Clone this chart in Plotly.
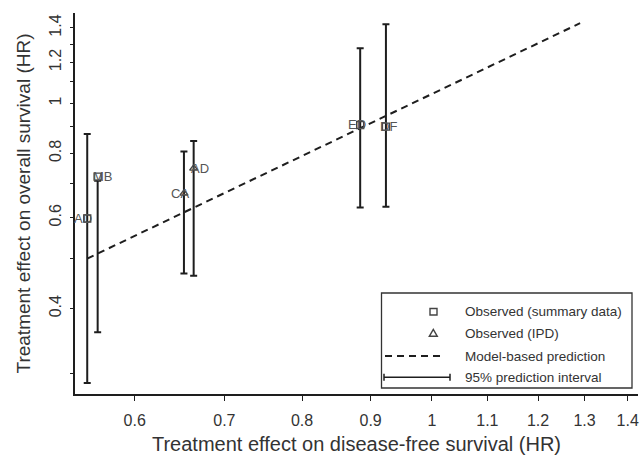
import numpy as np
import plotly.graph_objects as go

# ---------------- data ----------------
studies = ["AD", "MB", "CA", "AD", "ED", "DF"]
dfs_hr = [0.553, 0.563, 0.653, 0.664, 0.884, 0.924]          # treatment effect on DFS (HR)
os_observed = [0.598, 0.721, 0.669, 0.748, 0.908, 0.901]     # observed effect on OS (HR)
pi_lower = [0.287, 0.360, 0.468, 0.463, 0.628, 0.630]        # 95% prediction interval lower
pi_upper = [0.872, 0.708, 0.806, 0.845, 1.278, 1.423]        # 95% prediction interval upper
data_source = ["summary", "summary", "IPD", "IPD", "summary", "summary"]

pred_dfs = [0.553, 1.29]      # model-based prediction line (DFS HR)
pred_os = [0.500, 1.43]       # model-based prediction line (OS HR)

x_tickvals = [0.6, 0.7, 0.8, 0.9, 1.0, 1.1, 1.2, 1.3, 1.4]
x_ticktext = ["0.6", "0.7", "0.8", "0.9", "1", "1.1", "1.2", "1.3", "1.4"]
y_tickvals = [0.3, 0.4, 0.5, 0.6, 0.7, 0.8, 0.9, 1.0, 1.1, 1.2, 1.3, 1.4]
y_ticktext = ["", "0.4", "", "0.6", "", "0.8", "", "1", "", "1.2", "", "1.4"]

legend_labels = ["Observed (summary data)", "Observed (IPD)",
                 "Model-based prediction", "95% prediction interval"]

# ---------------- style ----------------
FONT = "Liberation Sans, Arial, sans-serif"
INK = "#1e1e1e"
TXT = "#333333"
label_xshift = [-4, 5, -4, 6, -3, 3]

W, H = 642, 457
L, R, T, B = 75, 4, 13, 63
PW, PH = W - L - R, H - T - B


def px(xp):
    return (xp - L) / PW


def py(yp):
    return (H - B - yp) / PH


fig = go.Figure()

# prediction intervals (error bars from lower to upper)
fig.add_trace(go.Scatter(
    x=dfs_hr, y=pi_lower, mode="markers",
    marker=dict(size=1, color="rgba(0,0,0,0)"),
    error_y=dict(type="data", symmetric=False,
                 array=[u - l for u, l in zip(pi_upper, pi_lower)],
                 arrayminus=[0] * len(pi_lower),
                 width=3.5, thickness=2, color=INK),
    hoverinfo="skip", showlegend=False))

# model-based prediction line
fig.add_trace(go.Scatter(
    x=pred_dfs, y=pred_os, mode="lines",
    line=dict(color=INK, width=2, dash="7px,5px"),
    showlegend=False))

# observed points
sym = {"summary": "square-open", "IPD": "triangle-up-open"}
fig.add_trace(go.Scatter(
    x=dfs_hr, y=os_observed, mode="markers",
    marker=dict(symbol=[sym[s] for s in data_source], size=7,
                color="#444444", line=dict(width=1.4, color="#444444")),
    showlegend=False))

annotations = []
for name, xv, yv, dx in zip(studies, dfs_hr, os_observed, label_xshift):
    annotations.append(dict(
        x=np.log10(xv), y=np.log10(yv), xref="x", yref="y", text=name,
        showarrow=False, xshift=dx, font=dict(family=FONT, size=13, color="#555555")))

# ---------------- manual legend ----------------
shapes = []
shapes.append(dict(type="rect", xref="paper", yref="paper",
                   x0=px(381.5), x1=px(632), y0=py(388), y1=py(293),
                   line=dict(color="#333333", width=1.3), fillcolor="white", layer="below"))
row_y = [311.7, 333.3, 356, 377.3]
# square
shapes.append(dict(type="rect", xref="paper", yref="paper",
                   x0=px(430), x1=px(437), y0=py(315), y1=py(308.5),
                   line=dict(color="#444444", width=1.4)))
# triangle
tx, ty = 433.3, row_y[1]
shapes.append(dict(type="path", xref="paper", yref="paper",
                   path=f"M {px(tx-4)} {py(ty+3)} L {px(tx+4)} {py(ty+3)} L {px(tx)} {py(ty-4)} Z",
                   line=dict(color="#444444", width=1.4)))
# dashed line
shapes.append(dict(type="line", xref="paper", yref="paper",
                   x0=px(385), x1=px(442), y0=py(row_y[2]), y1=py(row_y[2]),
                   line=dict(color=INK, width=2, dash="7px,5px")))
# interval
shapes.append(dict(type="line", xref="paper", yref="paper",
                   x0=px(384), x1=px(450), y0=py(row_y[3]), y1=py(row_y[3]),
                   line=dict(color=INK, width=1.5)))
for xe in (384, 450):
    shapes.append(dict(type="line", xref="paper", yref="paper",
                       x0=px(xe), x1=px(xe), y0=py(row_y[3] - 3.5), y1=py(row_y[3] + 3.5),
                       line=dict(color=INK, width=1.5)))
for lab, ry in zip(legend_labels, row_y):
    annotations.append(dict(x=px(463), y=py(ry), xref="paper", yref="paper",
                            xanchor="left", yanchor="middle", text=lab, showarrow=False,
                            font=dict(family=FONT, size=13.5, color=TXT)))

fig.update_layout(
    width=W, height=H,
    margin=dict(l=L, r=R, t=T, b=B, autoexpand=False),
    paper_bgcolor="white", plot_bgcolor="white",
    font=dict(family=FONT, color=TXT),
    shapes=shapes, annotations=annotations,
    showlegend=False,
)

fig.update_xaxes(
    type="log", range=[np.log10(0.5415), np.log10(1.425)],
    tickvals=x_tickvals, ticktext=x_ticktext,
    ticks="outside", ticklen=5, tickwidth=1.3, tickcolor=INK,
    showline=True, linecolor=INK, linewidth=1.8,
    showgrid=False, zeroline=False, automargin=False,
    tickfont=dict(family=FONT, size=16, color=TXT),
    ticklabelstandoff=6,
    title=dict(text="Treatment effect on disease-free survival (HR)",
               font=dict(family=FONT, size=20, color=TXT), standoff=9),
)
fig.update_yaxes(
    type="log", range=[-0.5636, 0.1751],
    tickvals=y_tickvals, ticktext=y_ticktext, tickangle=-90,
    ticks="outside", ticklen=3, tickwidth=1.3, tickcolor=INK,
    showline=True, linecolor=INK, linewidth=1.8,
    showgrid=False, zeroline=False, automargin=False,
    tickfont=dict(family=FONT, size=16, color=TXT),
    ticklabelstandoff=3,
    title=dict(text="Treatment effect on overall survival (HR)",
               font=dict(family=FONT, size=19, color=TXT), standoff=11),
)

fig.write_html("out.html")
